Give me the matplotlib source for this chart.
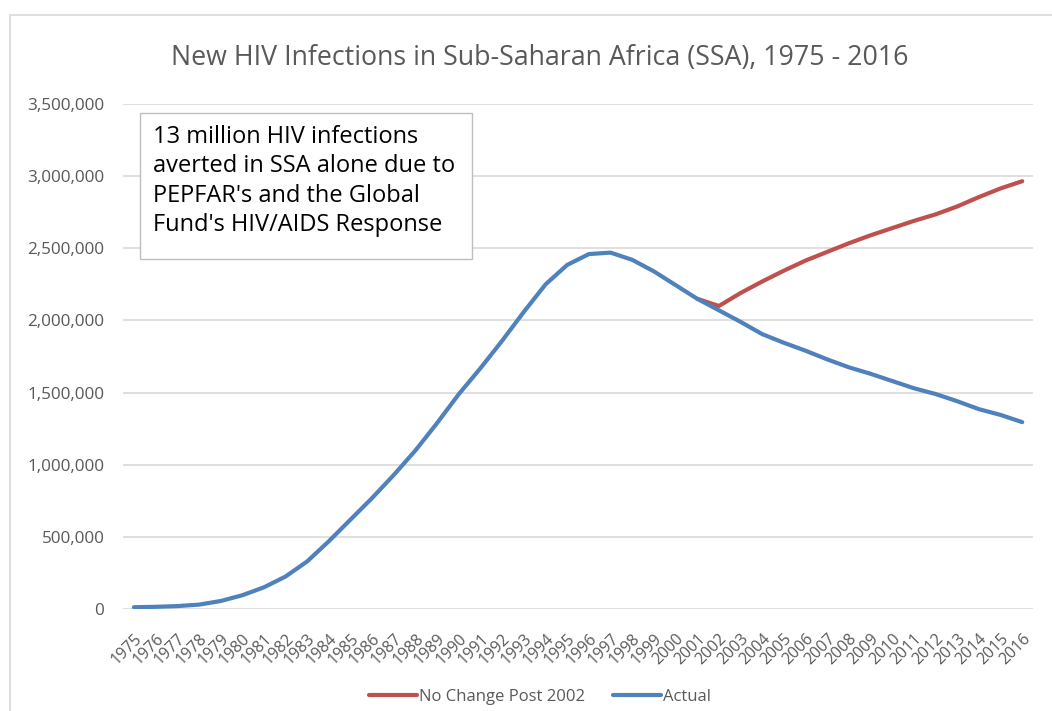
import numpy as np
import matplotlib
matplotlib.use('Agg')
import matplotlib.pyplot as plt
from matplotlib.patches import Rectangle
from matplotlib.ticker import FuncFormatter

# ---- data ----
years = [str(y) for y in range(1975, 2017)]

actual = [12000, 15000, 20000, 30000, 55000, 95000, 150000, 225000, 330000,
          470000, 620000, 770000, 930000, 1100000, 1290000, 1490000, 1670000,
          1860000, 2060000, 2250000, 2385000, 2460000, 2470000, 2420000,
          2340000, 2245000, 2150000, 2070000, 1990000, 1905000, 1845000,
          1790000, 1730000, 1675000, 1630000, 1580000, 1530000, 1490000,
          1440000, 1385000, 1345000, 1295000]

no_change_years = [str(y) for y in range(2001, 2017)]
no_change = [2150000, 2100000, 2190000, 2270000, 2345000, 2415000, 2475000,
             2535000, 2590000, 2640000, 2690000, 2735000, 2790000, 2855000,
             2915000, 2965000]

y_ticks = [0, 500000, 1000000, 1500000, 2000000, 2500000, 3000000, 3500000]

RED  = '#C0504D'
BLUE = '#4F81BD'
GREY = '#595959'
FONT = ['Open Sans', 'DejaVu Sans']

plt.rcParams['font.family'] = FONT

fig = plt.figure(figsize=(10.52, 7.11), dpi=100)
ax = fig.add_axes([0.117, 0.1435, 0.865, 0.7102])

x_all = np.arange(len(years))
x_nc  = np.array([years.index(y) for y in no_change_years])

ax.plot(x_nc, no_change, color=RED, lw=3, solid_capstyle='round',
        label='No Change Post 2002', zorder=3)
ax.plot(x_all, actual, color=BLUE, lw=3, solid_capstyle='round',
        label='Actual', zorder=4)

ax.set_xlim(-0.5, len(years) - 0.5)
ax.set_ylim(0, 3500000)
ax.set_yticks(y_ticks)
ax.yaxis.set_major_formatter(FuncFormatter(lambda v, _: f'{int(v):,}'))
ax.grid(axis='y', color='#d9d9d9', lw=1.2)
ax.set_axisbelow(True)
for s in ax.spines.values():
    s.set_visible(False)
ax.tick_params(axis='both', length=0)
ax.tick_params(axis='y', labelsize=12.3, labelcolor=GREY, pad=13.5)

ax.set_xticks(x_all)
ax.set_xticklabels(years, rotation=45, ha='right', rotation_mode='anchor',
                   fontsize=11.5, color=GREY)
ax.tick_params(axis='x', pad=16)

fig.text(0.513, 0.918, 'New HIV Infections in Sub-Saharan Africa (SSA), 1975 - 2016',
         ha='center', va='center', fontsize=19.3, color=GREY)

# annotation text box
ax.add_patch(Rectangle((0.0187, 0.693), 0.3648, 0.289, transform=ax.transAxes,
                       fc='white', ec='#bfbfbf', lw=1, zorder=5))
ax.text(0.033, 0.958,
        "13 million HIV infections\naverted in SSA alone due to\n"
        "PEPFAR's and the Global\nFund's HIV/AIDS Response",
        transform=ax.transAxes, ha='left', va='top', fontsize=17,
        color='black', linespacing=1.29, zorder=6)

# outer chart border (cropped on right/bottom)
fig.patches.append(Rectangle((0.0095, -0.05), 1.2, 1.029, transform=fig.transFigure,
                             fill=False, ec='#d9d9d9', lw=1.2))

fig.legend(loc='lower center', bbox_to_anchor=(0.513, -0.012), ncol=2, frameon=False,
           fontsize=12, handlelength=2.9, handletextpad=0.1, columnspacing=1.7,
           labelcolor=GREY)

fig.savefig('out.png', dpi=100)
